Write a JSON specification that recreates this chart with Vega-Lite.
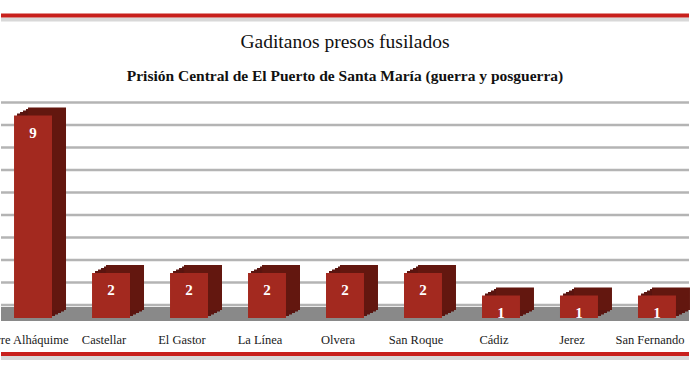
{
  "$schema": "https://vega.github.io/schema/vega-lite/v6.json",
  "width": 688,
  "height": 216,
  "autosize": {"type": "none"},
  "padding": {"left": 1, "right": 1, "top": 102, "bottom": 49},
  "background": "white",
  "title": {
    "text": "Gaditanos presos fusilados",
    "subtitle": "Prisión Central de El Puerto de Santa María (guerra y posguerra)",
    "anchor": "middle",
    "offset": 0,
    "dy": 72
  },
  "config": {
    "view": {"stroke": null},
    "font": "Liberation Serif",
    "title": {
      "font": "Liberation Serif",
      "fontSize": 19.5,
      "fontWeight": "normal",
      "color": "#111111",
      "subtitleFont": "Liberation Serif",
      "subtitleFontSize": 15.5,
      "subtitleFontWeight": "bold",
      "subtitleColor": "#111111",
      "subtitlePadding": 16
    }
  },
  "datasets": {
    "bars": [
      {"municipio": "Torre Alháquime", "fusilados": 9},
      {"municipio": "Castellar", "fusilados": 2},
      {"municipio": "El Gastor", "fusilados": 2},
      {"municipio": "La Línea", "fusilados": 2},
      {"municipio": "Olvera", "fusilados": 2},
      {"municipio": "San Roque", "fusilados": 2},
      {"municipio": "Cádiz", "fusilados": 1},
      {"municipio": "Jerez", "fusilados": 1},
      {"municipio": "San Fernando", "fusilados": 1}
    ],
    "grid": [{"v": 0}, {"v": 1}, {"v": 2}, {"v": 3}, {"v": 4}, {"v": 5}, {"v": 6}, {"v": 7}, {"v": 8}, {"v": 9}],
    "frame": [{"v": 13.45, "c": "red"}, {"v": -1.6, "c": "red"}]
  },
  "layer": [
    {
      "data": {"name": "grid"},
      "mark": {"type": "rule", "color": "#b4b4b4", "strokeWidth": 2.5, "yOffset": -13},
      "encoding": {
        "y": {"field": "v", "type": "quantitative", "scale": {"domain": [0, 9.6], "nice": false, "zero": false}, "axis": null}
      }
    },
    {
      "data": {"name": "grid"},
      "transform": [{"filter": "datum.v == 0"}],
      "mark": {"type": "rule", "color": "#898989", "strokeWidth": 14, "yOffset": -4},
      "encoding": {
        "y": {"field": "v", "type": "quantitative"}
      }
    },
    {
      "data": {"name": "frame"},
      "mark": {"type": "rule", "color": "#d8d8d8", "strokeWidth": 4, "yOffset": 4},
      "encoding": {"y": {"field": "v", "type": "quantitative"}}
    },
    {
      "data": {"name": "frame"},
      "mark": {"type": "rule", "color": "#c8201c", "strokeWidth": 4},
      "encoding": {"y": {"field": "v", "type": "quantitative"}}
    },
    {
      "data": {"name": "bars"},
      "encoding": {
        "x": {
          "field": "municipio",
          "type": "nominal",
          "sort": null,
          "scale": {"paddingInner": 0.513, "paddingOuter": 0.167},
          "axis": {
            "title": null,
            "domain": false,
            "ticks": false,
            "labelAngle": 0,
            "labelFont": "Liberation Serif",
            "labelFontSize": 12.5,
            "labelColor": "#1a1a1a",
            "labelPadding": 15,
            "labelOffset": -7,
            "labelOverlap": false,
            "labelLimit": 200
          }
        },
        "y": {"field": "fusilados", "type": "quantitative"}
      },
      "layer": [
        {"mark": {"type": "bar", "color": "#5a1510", "xOffset": 3, "yOffset": -2}},
        {"mark": {"type": "bar", "color": "#5a1510", "xOffset": 6, "yOffset": -3.5}},
        {"mark": {"type": "bar", "color": "#5a1510", "xOffset": 9, "yOffset": -5}},
        {"mark": {"type": "bar", "color": "#5a1510", "xOffset": 12, "yOffset": -6.5}},
        {"mark": {"type": "bar", "color": "#63170f", "xOffset": 14, "yOffset": -8}},
        {"mark": {"type": "bar", "color": "#a3291f"}},
        {
          "mark": {"type": "text", "color": "white", "font": "Liberation Serif", "fontSize": 15, "fontWeight": "bold", "dy": 17, "baseline": "middle"},
          "encoding": {"text": {"field": "fusilados", "type": "quantitative"}}
        }
      ]
    }
  ]
}
